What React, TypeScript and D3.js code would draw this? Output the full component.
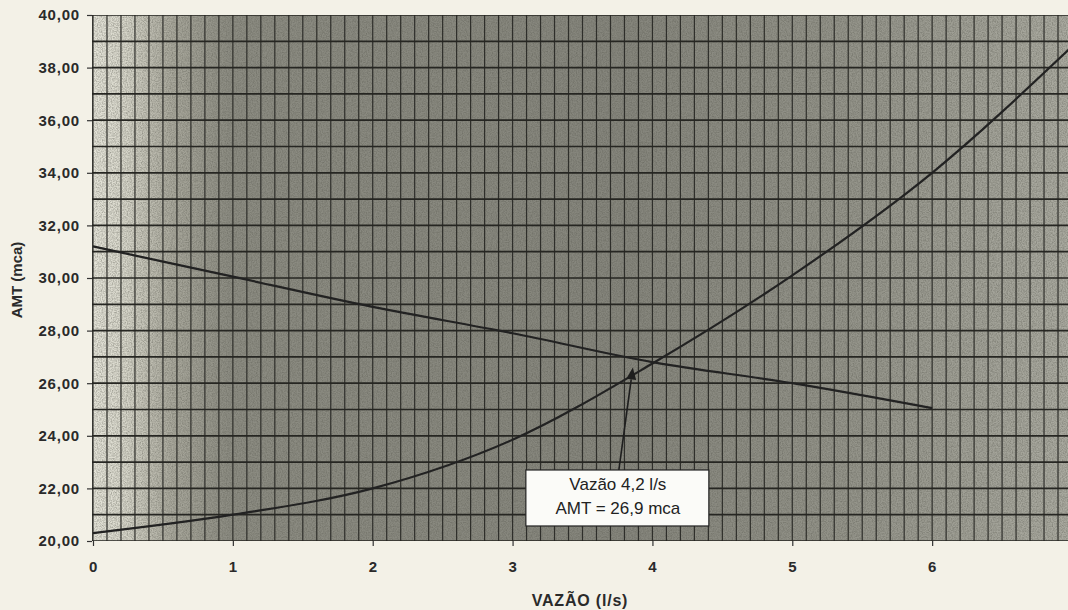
import React from "react";
import { select, scaleLinear, line, curveMonotoneX, range, axisBottom, axisLeft } from "d3";

// vazão (l/s) and AMT (mca)
const flowPoints = [0, 1, 2, 3, 4, 5, 6, 7];
const systemHead = [20.3, 21.0, 22.0, 23.85, 26.75, 30.1, 34.0, 38.8];
const pumpFlow = [0, 1, 2, 3, 4, 5, 6];
const pumpHead = [31.2, 30.05, 28.9, 27.9, 26.8, 26.0, 25.05];

const xTicks = [0, 1, 2, 3, 4, 5, 6, 7];
const yTicks = [20, 22, 24, 26, 28, 30, 32, 34, 36, 38, 40];

const noteLines = ["Vazão 4,2 l/s", "AMT = 26,9 mca"];
const noteTip = [3.86, 26.6];
const noteAnchor = [3.76, 22.7];

const W = 1068;
const H = 610;
const margin = { top: 15, left: 92, bottom: 541 };
const font = "'Liberation Sans', Arial, sans-serif";

export default function App() {
  const svgRef = React.useRef<SVGSVGElement>(null);

  React.useEffect(() => {
    const svg = select(svgRef.current);
    svg.selectAll("*").remove();

    const x = scaleLinear().domain([0, 7]).range([93, 1072]);
    const y = scaleLinear().domain([20, 40]).range([margin.bottom, margin.top]);

    const defs = svg.append("defs");
    const grad = defs.append("linearGradient").attr("id", "bg").attr("x1", 0).attr("x2", 1).attr("y1", 0).attr("y2", 0);
    [
      [0, "#e6e5da"],
      [0.035, "#d6d5c9"],
      [0.08, "#aaa99d"],
      [0.14, "#8c8c82"],
      [0.55, "#85857c"],
      [0.78, "#94948a"],
      [1, "#aaaaa0"],
    ].forEach(([o, c]) => grad.append("stop").attr("offset", o as number).attr("stop-color", c as string));

    // paper grain
    const f = defs.append("filter").attr("id", "noise").attr("x", 0).attr("y", 0).attr("width", "100%").attr("height", "100%");
    f.append("feTurbulence").attr("type", "fractalNoise").attr("baseFrequency", 0.8).attr("numOctaves", 2).attr("seed", 4);
    f.append("feColorMatrix").attr("type", "matrix")
      .attr("values", "0 0 0 0 0.1  0 0 0 0 0.1  0 0 0 0 0.08  1.6 0 0 0 -0.55");

    defs.append("clipPath").attr("id", "plot")
      .append("rect").attr("x", margin.left).attr("y", margin.top).attr("width", W - margin.left).attr("height", margin.bottom - margin.top);

    svg.append("rect").attr("width", W).attr("height", H).attr("fill", "#f3f1e7");

    const plotW = W - margin.left;
    const plotH = margin.bottom - margin.top;
    svg.append("rect").attr("x", margin.left).attr("y", margin.top).attr("width", plotW).attr("height", plotH).attr("fill", "url(#bg)");
    svg.append("rect").attr("x", margin.left).attr("y", margin.top).attr("width", plotW).attr("height", plotH)
      .attr("filter", "url(#noise)").attr("opacity", 0.55);

    const g = svg.append("g").attr("clip-path", "url(#plot)");

    // minor vertical grid every 0.1 l/s
    g.selectAll(".vgrid")
      .data(range(0, 71).map(i => i / 10))
      .join("line")
      .attr("x1", d => x(d)).attr("x2", d => x(d))
      .attr("y1", margin.top).attr("y2", margin.bottom)
      .attr("stroke", "#2e2e2a").attr("stroke-width", 1.2);

    // horizontal grid every 1 mca
    g.selectAll(".hgrid")
      .data(range(20, 41))
      .join("line")
      .attr("x1", margin.left).attr("x2", W)
      .attr("y1", d => y(d)).attr("y2", d => y(d))
      .attr("stroke", "#262622").attr("stroke-width", 1.7);

    g.append("line").attr("x1", margin.left).attr("x2", margin.left).attr("y1", margin.top).attr("y2", margin.bottom)
      .attr("stroke", "#262622").attr("stroke-width", 1.5);

    const curve = line<number>().curve(curveMonotoneX);
    g.append("path")
      .attr("d", curve.x((_, i) => x(flowPoints[i])).y(d => y(d))(systemHead))
      .attr("fill", "none").attr("stroke", "#222").attr("stroke-width", 2.2);
    g.append("path")
      .attr("d", curve.x((_, i) => x(pumpFlow[i])).y(d => y(d))(pumpHead))
      .attr("fill", "none").attr("stroke", "#222").attr("stroke-width", 2.2);

    // axes
    const xAxis = axisBottom(x).tickValues(xTicks).tickSize(5).tickPadding(15).tickFormat(d => String(d));
    const xg = svg.append("g").attr("transform", `translate(0,${margin.bottom})`).call(xAxis);
    const yAxis = axisLeft(y).tickValues(yTicks).tickSize(5).tickPadding(7).tickFormat(d => (d as number).toFixed(2).replace(".", ","));
    const yg = svg.append("g").attr("transform", `translate(${margin.left},0)`).call(yAxis);
    [xg, yg].forEach(a => {
      a.select(".domain").remove();
      a.selectAll("line").attr("stroke", "#333").attr("stroke-width", 1.2);
      a.selectAll("text").attr("fill", "#2a2a2a").style("font-family", font).style("font-size", "15px")
        .style("font-weight", "bold").style("letter-spacing", "0.8px");
    });

    svg.append("text").attr("transform", "translate(22,280) rotate(-90)").attr("text-anchor", "middle")
      .style("font-family", font).style("font-size", "15px").style("font-weight", "bold").attr("fill", "#2a2a2a")
      .text("AMT (mca)");
    svg.append("text").attr("x", 580).attr("y", 606).attr("text-anchor", "middle")
      .style("font-family", font).style("font-size", "16px").style("font-weight", "bold").style("letter-spacing", "0.8px")
      .attr("fill", "#2a2a2a")
      .text("VAZÃO (l/s)");

    // annotation
    const tx = x(noteTip[0]), ty = y(noteTip[1]);
    const ax = x(noteAnchor[0]), ay = y(noteAnchor[1]);
    const ang = Math.atan2(ty - ay, tx - ax);
    const len = 12, wid = 5;
    const bx = tx - len * Math.cos(ang), by = ty - len * Math.sin(ang);
    svg.append("line").attr("x1", ax).attr("y1", ay).attr("x2", bx).attr("y2", by).attr("stroke", "#1e1e1e").attr("stroke-width", 1.6);
    svg.append("path")
      .attr("d", `M${tx},${ty}L${bx - wid * Math.sin(ang)},${by + wid * Math.cos(ang)}L${bx + wid * Math.sin(ang)},${by - wid * Math.cos(ang)}Z`)
      .attr("fill", "#1e1e1e");
    svg.append("rect").attr("x", ax - 93).attr("y", ay).attr("width", 183).attr("height", 56)
      .attr("fill", "#fbfbf8").attr("stroke", "#222").attr("stroke-width", 1.2);
    noteLines.forEach((t, i) => {
      svg.append("text").attr("x", ax - 1).attr("y", ay + 20 + i * 24).attr("text-anchor", "middle")
        .style("font-family", font).style("font-size", "17px").attr("fill", "#222").text(t);
    });
  }, []);

  return <svg ref={svgRef} width={W} height={H} style={{ position: "absolute", left: 0, top: 0 }} />;
}
